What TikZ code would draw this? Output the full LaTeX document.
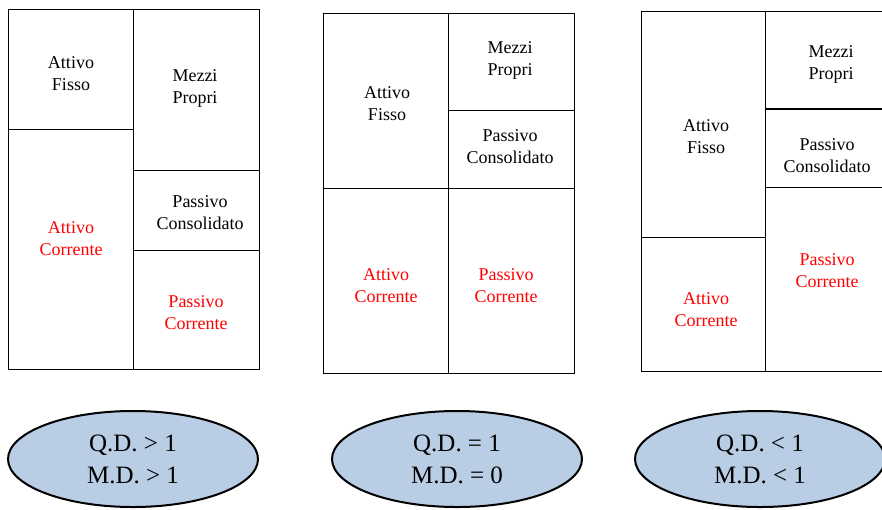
\documentclass[tikz,border=0pt]{standalone}
\usepackage{fontspec}
\setmainfont{Liberation Serif}
\usetikzlibrary{shapes.geometric}
\definecolor{ratiofill}{HTML}{B9CDE5}
\definecolor{curred}{HTML}{FF0000}
\begin{document}
\begin{tikzpicture}[x=1pt,y=-1pt,
  cell/.style={draw=black, line width=1pt},
  lbl/.style={align=center, inner sep=0pt, font=\fontsize{18}{22}\selectfont},
  cur/.style={lbl, text=curred},
  ratio/.style={ellipse, draw=black, line width=2pt, fill=ratiofill,
    minimum width=250pt, minimum height=96pt, inner sep=0pt, align=center,
    font=\fontsize{25}{32}\selectfont}]
\useasboundingbox (0,0) rectangle (882,509);

% --- balance sheet 1: fixed assets covered by equity and long-term debt
\draw[cell] (8,9) rectangle (133,129);
\draw[cell] (8,129) rectangle (133,369);
\draw[cell] (133,9) rectangle (259,170);
\draw[cell] (133,170) rectangle (259,250);
\draw[cell] (133,250) rectangle (259,369);
\node[lbl] (af1) at (71,74) {Attivo\\Fisso};
\node[lbl] (mp1) at (195,88) {Mezzi\\Propri};
\node[lbl] (pc1) at (200,213) {Passivo\\Consolidato};
\node[cur] (ac1) at (71,239) {Attivo\\Corrente};
\node[cur] (pr1) at (196,313) {Passivo\\Corrente};

% --- balance sheet 2: perfect balance
\draw[cell] (323,13) rectangle (448,188);
\draw[cell] (323,188) rectangle (448,373);
\draw[cell] (448,13) rectangle (574,110);
\draw[cell] (448,110) rectangle (574,188);
\draw[cell] (448,188) rectangle (574,373);
\node[lbl] (af2) at (387,104) {Attivo\\Fisso};
\node[lbl] (mp2) at (510,60) {Mezzi\\Propri};
\node[lbl] (pc2) at (510,147) {Passivo\\Consolidato};
\node[cur] (ac2) at (386,286) {Attivo\\Corrente};
\node[cur] (pr2) at (506,286) {Passivo\\Corrente};

% --- balance sheet 3: fixed assets partly financed by short-term debt
\draw[cell] (641,11) rectangle (765,237);
\draw[cell] (641,237) rectangle (765,371);
\draw[cell] (765,11) rectangle (886,109);
\draw[cell] (765,109) rectangle (886,187);
\draw[cell] (765,187) rectangle (886,371);
\draw[line width=2pt] (765,109) -- (886,109);
\node[lbl] (af3) at (706,137) {Attivo\\Fisso};
\node[lbl] (mp3) at (831,64) {Mezzi\\Propri};
\node[lbl] (pc3) at (827,156) {Passivo\\Consolidato};
\node[cur] (ac3) at (706,310) {Attivo\\Corrente};
\node[cur] (pr3) at (827,271) {Passivo\\Corrente};

% --- ratios
\node[ratio] (r1) at (133,459) {Q.D. > 1\\M.D. > 1};
\node[ratio] (r2) at (457,459) {Q.D. = 1\\M.D. = 0};
\node[ratio] (r3) at (760,459) {Q.D. < 1\\M.D. < 1};
\end{tikzpicture}
\end{document}
